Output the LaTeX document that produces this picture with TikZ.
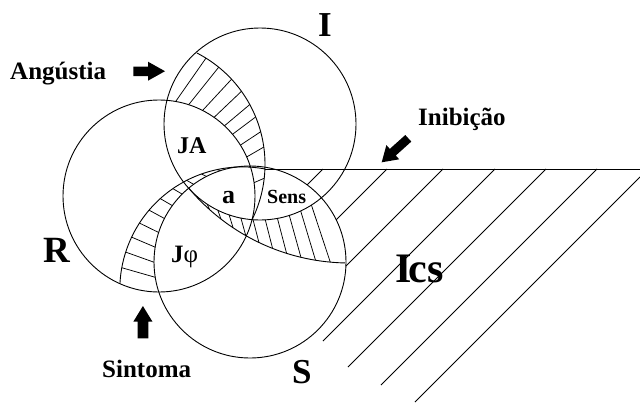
\documentclass[tikz,border=0pt]{standalone}
\usepackage{fontspec}
\setmainfont{Liberation Serif}
\begin{document}
\begin{tikzpicture}[x=1pt,y=-1pt,
  ring/.style={line width=0.9pt},
  hatch/.style={line width=0.75pt},
  lbl/.style={inner sep=0pt, anchor=base west},
  pointer/.style={fill=black}]
\useasboundingbox (0,0) rectangle (640,405);
% the three rings
\draw[ring] (260,124) circle[radius=96pt];
\draw[ring] (159,196) circle[radius=96pt];
\draw[ring] (250,262) circle[radius=96pt];
% band boundaries
\draw[ring] plot[domain=-62.9:26.4, samples=80] ({140+125*cos(\x)},{164.3+125*sin(\x)});
\draw[ring] plot[domain=-177.2:-79.5, samples=80] ({242.6+122.8*cos(\x)},{289.7+122.8*sin(\x)});
\draw[ring] plot[domain=91.2:139.9, samples=80] ({349.5+210*cos(\x)},{53+210*sin(\x)});
% Angustia hatches
\foreach \r in {-80,-72,-63,-55,-47,-40,-32,-24,-8}{
  \pgfmathsetmacro\angB{-62.9+(\r+85.3)*0.8966}
  \draw[hatch] ({159+96*cos(\r)},{196+96*sin(\r)}) -- ({140+125*cos(\angB)},{164.3+125*sin(\angB)});
}
% Sintoma hatches
\foreach \k in {1,...,12}{
  \pgfmathsetmacro\angA{161.8+\k/13*117.4}
  \pgfmathsetmacro\angB{182.8+\k/13*97.7}
  \draw[hatch] ({250+96*cos(\angA)},{262+96*sin(\angA)}) -- ({242.6+122.8*cos(\angB)},{289.7+122.8*sin(\angB)});
}
% Inibicao hatches
\foreach \k in {1,...,11}{
  \pgfmathsetmacro\angA{138-\k/12*87.7}
  \pgfmathsetmacro\angB{139.9-\k/12*48.7}
  \draw[hatch] ({260+96*cos(\angA)},{124+96*sin(\angA)}) -- ({349.5+210*cos(\angB)},{53+210*sin(\angB)});
}
% Ics region
\coordinate (P) at (265,169);
\coordinate (E) at (640,169);
\draw[ring] (P) -- (E);
\foreach \t/\s in {323/15.85, 387/50.8, 443/97.1, 495/172, 546/198, 597/216}{
  \draw[hatch] (\t,169) -- ({\t-\s},{169+\s});
}
\draw[hatch] (640,177) -- (415,402);
% pointers
\fill[pointer] (133.3,66.7) -- (148,66.7) -- (148,61.7) -- (165,71.2) -- (148,80.7) -- (148,76) -- (133.3,76) -- cycle;
\fill[pointer] (137.5,338.3) -- (137.5,321.7) -- (133.3,321.7) -- (142.9,306) -- (152.5,321.7) -- (148.3,321.7) -- (148.3,338.3) -- cycle;
\fill[pointer] (405.3,135) -- (389.8,148.9) -- (386.4,145.1) -- (381.7,162.3) -- (399.2,159.3) -- (395.8,155.5) -- (411.3,141.6) -- cycle;
% labels
\node[lbl, font=\fontsize{35}{35}\selectfont\bfseries] (lI) at (318,36) {I};
\node[lbl, font=\fontsize{37}{37}\selectfont\bfseries] (lR) at (43,262) {R};
\node[lbl, font=\fontsize{35}{35}\selectfont\bfseries] (lS) at (292,383) {S};
\node[lbl, font=\fontsize{42}{42}\selectfont\bfseries] (lIcs) at (395,282) {I\kern-3pt cs};
\node[lbl, font=\fontsize{25}{25}\selectfont\bfseries] (lAng) at (10,79) {Angústia};
\node[lbl, font=\fontsize{25}{25}\selectfont\bfseries] (lIni) at (418,125) {Inibição};
\node[lbl, font=\fontsize{25}{25}\selectfont\bfseries] (lSin) at (102,377) {Sintoma};
\node[lbl, font=\fontsize{24}{24}\selectfont\bfseries] (lJA) at (177,153) {JA};
\node[lbl, font=\fontsize{26}{26}\selectfont\bfseries] (la) at (222,203) {a};
\node[lbl, font=\fontsize{20}{20}\selectfont\bfseries] (lSens) at (267,203) {Sens};
\node[lbl, font=\fontsize{25}{25}\selectfont\bfseries] (lJphi) at (171,262) {J{\mdseries φ}};
\end{tikzpicture}
\end{document}
